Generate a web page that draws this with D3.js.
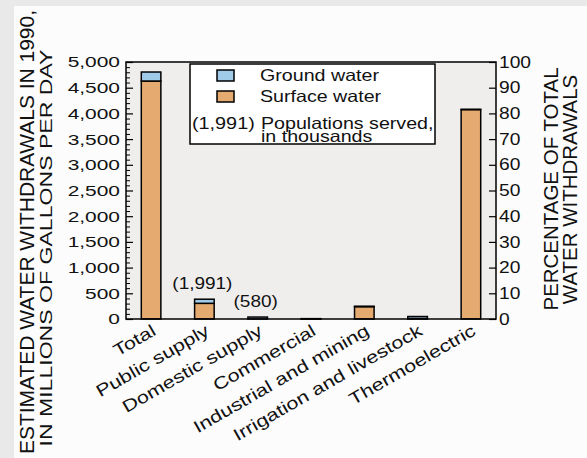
<!DOCTYPE html>
<html>
<head>
<meta charset="utf-8">
<script src="https://cdn.jsdelivr.net/npm/d3@7"></script>
<style>
  body { margin: 0; background: #e9e9e9; }
  text { font-family: "Liberation Sans", Arial, Helvetica, sans-serif; fill: #111; }
</style>
</head>
<body>
<div id="main"></div>
<script>
// water use categories, million gallons per day
var categories = ["Total", "Public supply", "Domestic supply", "Commercial",
  "Industrial and mining", "Irrigation and livestock", "Thermoelectric"];
var surfaceWater = [4630, 305, 0, 3, 240, 8, 4074];
var groundWater = [175, 80, 38, 4, 8, 40, 5];
var populations = [null, "(1,991)", "(580)", null, null, null, null];
var leftTicks = [0, 500, 1000, 1500, 2000, 2500, 3000, 3500, 4000, 4500, 5000];
var rightTicks = [0, 10, 20, 30, 40, 50, 60, 70, 80, 90, 100];
var legendItems = ["Ground water", "Surface water"];

var W = 587, H = 458;
var plot = {left: 126, right: 496, top: 62, bottom: 319};

var stretch = function(sel, k) {
  sel.each(function() {
    var w = this.getComputedTextLength();
    d3.select(this).attr("textLength", w * k).attr("lengthAdjust", "spacingAndGlyphs");
  });
};

var svg = d3.select("#main").append("svg")
    .attr("width", W)
    .attr("height", H);

svg.append("rect")
    .attr("x", 14).attr("y", 6)
    .attr("width", W - 14).attr("height", H - 6)
    .attr("fill", "#fcfcfc");

var x = d3.scaleBand()
    .domain(categories)
    .range([plot.left, plot.right])
    .paddingInner(0.633)
    .paddingOuter(0.287);

var y = d3.scaleLinear()
    .domain([0, 5000])
    .range([plot.bottom, plot.top]);

var y2 = d3.scaleLinear()
    .domain([0, 100])
    .range([plot.bottom, plot.top]);

svg.append("rect")
    .attr("x", plot.left).attr("y", plot.top)
    .attr("width", plot.right - plot.left)
    .attr("height", plot.bottom - plot.top)
    .attr("fill", "#efeeed");

// stacked bars: surface at the bottom, ground on top
var rows = categories.map(function(c, i) {
  return {name: c, surface: surfaceWater[i], ground: groundWater[i], pop: populations[i]};
});
var stack = d3.stack().keys(["surface", "ground"])(rows);
var colors = {surface: "#e4aa70", ground: "#a0cbe8"};

svg.selectAll(".layer")
    .data(stack)
    .enter().append("g")
      .attr("class", "layer")
      .attr("fill", function(d) { return colors[d.key]; })
    .selectAll("rect")
    .data(function(d) { return d; })
    .enter().append("rect")
      .attr("x", function(d) { return x(d.data.name); })
      .attr("width", x.bandwidth())
      .attr("y", function(d) { return y(d[1]); })
      .attr("height", function(d) { return y(d[0]) - y(d[1]); })
      .attr("stroke", "#000")
      .attr("stroke-width", 1.5);

// population labels above bars
var pops = svg.selectAll(".pop")
    .data(rows.filter(function(d) { return d.pop; }))
    .enter().append("text")
      .attr("class", "pop")
      .attr("x", function(d) { return x(d.name) + x.bandwidth() / 2 - 2; })
      .attr("y", function(d) { return y(d.surface + d.ground) - 10; })
      .attr("text-anchor", "middle")
      .style("font-size", "16.5px")
      .text(function(d) { return d.pop; });
stretch(pops, 1.15);

// frame
svg.append("rect")
    .attr("x", plot.left).attr("y", plot.top)
    .attr("width", plot.right - plot.left)
    .attr("height", plot.bottom - plot.top)
    .attr("fill", "none")
    .attr("stroke", "#000")
    .attr("stroke-width", 1.5);

// left axis, ticks inside
var minor = d3.range(0, 5001, 100).filter(function(v) { return v % 500; });
svg.append("g")
    .attr("transform", "translate(" + plot.left + ",0)")
    .call(d3.axisRight(y).tickValues(minor).tickSize(4).tickFormat(""))
    .call(function(g) { g.select(".domain").remove(); });

var leftAxis = svg.append("g")
    .attr("transform", "translate(" + plot.left + ",0)")
    .call(d3.axisRight(y).tickValues(leftTicks).tickSize(7).tickFormat(d3.format(",")));
leftAxis.select(".domain").remove();
leftAxis.selectAll("line").attr("stroke-width", 1.2);
leftAxis.selectAll("text")
    .attr("x", -6)
    .attr("text-anchor", "end")
    .style("font-size", "15.5px");
stretch(leftAxis.selectAll("text"), 1.35);

// right axis, percentage
var rightAxis = svg.append("g")
    .attr("transform", "translate(" + plot.right + ",0)")
    .call(d3.axisLeft(y2).tickValues(rightTicks).tickSize(7));
rightAxis.select(".domain").remove();
rightAxis.selectAll("line").attr("stroke-width", 1.2);
rightAxis.selectAll("text")
    .attr("x", 3)
    .attr("text-anchor", "start")
    .style("font-size", "16px");
stretch(rightAxis.selectAll("text"), 1.2);

// category labels
var xl = svg.selectAll(".xlab")
    .data(categories)
    .enter().append("text")
      .attr("class", "xlab")
      .attr("text-anchor", "end")
      .attr("transform", function(d) {
        return "translate(" + (x(d) + x.bandwidth() / 2 + 6) + "," + (plot.bottom + 15) + ") rotate(-30)";
      })
      .style("font-size", "17px")
      .text(function(d) { return d; });
stretch(xl, 1.27);

// axis titles
var t1 = svg.append("text")
    .attr("transform", "translate(33.5,232) rotate(-90)")
    .attr("text-anchor", "middle")
    .style("font-size", "20.5px")
    .text("ESTIMATED WATER WITHDRAWALS IN 1990,");
t1.attr("textLength", 444).attr("lengthAdjust", "spacingAndGlyphs");
var t2 = svg.append("text")
    .attr("transform", "translate(52,248) rotate(-90)")
    .attr("text-anchor", "middle")
    .style("font-size", "16.5px")
    .text("IN MILLIONS OF GALLONS PER DAY");
t2.attr("textLength", 397).attr("lengthAdjust", "spacingAndGlyphs");

var r1 = svg.append("text")
    .attr("transform", "translate(558,189) rotate(-90)")
    .attr("text-anchor", "middle")
    .style("font-size", "19.5px")
    .text("PERCENTAGE OF TOTAL");
stretch(r1, 1.05);
var r2 = svg.append("text")
    .attr("transform", "translate(577,189.5) rotate(-90)")
    .attr("text-anchor", "middle")
    .style("font-size", "19.5px")
    .text("WATER WITHDRAWALS");
stretch(r2, 1.05);

// legend
var legend = svg.append("g").attr("transform", "translate(190,64)");
legend.append("rect")
    .attr("width", 245).attr("height", 80)
    .attr("fill", "#fff")
    .attr("stroke", "#000")
    .attr("stroke-width", 1.5);

var li = legend.selectAll(".item")
    .data(legendItems)
    .enter().append("g")
      .attr("class", "item")
      .attr("transform", function(d, i) { return "translate(0," + (6 + i * 21) + ")"; });
li.append("rect")
    .attr("x", 27).attr("width", 17).attr("height", 11)
    .attr("fill", function(d, i) { return i ? colors.surface : colors.ground; })
    .attr("stroke", "#000")
    .attr("stroke-width", 1.5);
var lt = li.append("text")
    .attr("x", 70).attr("y", 11)
    .style("font-size", "16.5px")
    .text(function(d) { return d; });
stretch(lt, 1.19);

var lp = legend.append("text")
    .attr("x", 2).attr("y", 65)
    .style("font-size", "16.5px")
    .text("(1,991)");
stretch(lp, 1.2);
var lp2 = legend.append("text")
    .attr("x", 71).attr("y", 65)
    .style("font-size", "16.5px")
    .text("Populations served,");
stretch(lp2, 1.19);
var lp3 = legend.append("text")
    .attr("x", 71).attr("y", 77.5)
    .style("font-size", "16.5px")
    .text("in thousands");
stretch(lp3, 1.19);
</script>
</body>
</html>
